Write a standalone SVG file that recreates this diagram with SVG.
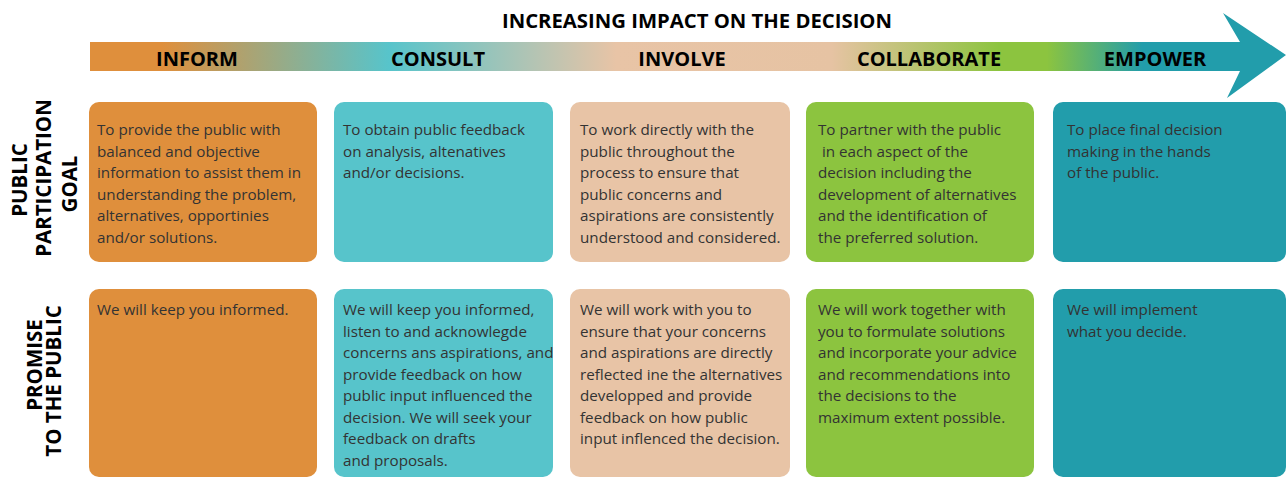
<svg xmlns="http://www.w3.org/2000/svg" width="1287" height="477" viewBox="0 0 1287 477">
<defs>
<linearGradient id="bar" gradientUnits="userSpaceOnUse" x1="90" y1="0" x2="1286" y2="0">
<stop offset="0" stop-color="#DF8F3C"/>
<stop offset="0.06" stop-color="#DF8F3C"/>
<stop offset="0.25" stop-color="#57C4CB"/>
<stop offset="0.44" stop-color="#E8C4A6"/>
<stop offset="0.62" stop-color="#E6C3A3"/>
<stop offset="0.76" stop-color="#8CC43F"/>
<stop offset="0.8" stop-color="#8CC43F"/>
<stop offset="0.88" stop-color="#229DAB"/>
<stop offset="1" stop-color="#229DAB"/>
</linearGradient>
<style>
.title{font-family:"Open Sans","Liberation Sans",sans-serif;font-weight:700;font-size:20.3px;fill:#000;}
.hdr{font-family:"Open Sans","Liberation Sans",sans-serif;font-weight:700;font-size:20px;fill:#000;text-anchor:middle;}
.side{font-family:"Open Sans","Liberation Sans",sans-serif;font-weight:700;font-size:20.5px;fill:#000;text-anchor:middle;}
.body{font-family:"Open Sans","Liberation Sans",sans-serif;font-weight:400;font-size:15.2px;fill:#333;}
.o{fill:#DF8F3C;}.t{fill:#57C4CB;}.p{fill:#E8C4A6;}.g{fill:#8CC43F;}.d{fill:#229DAB;}
</style>
</defs>

<g id="arrow">
<path d="M90,42 H1240 L1223,13 L1286,55 L1227,98 L1240,71 H90 Z" fill="url(#bar)"/>
<text class="title" x="697" y="28" text-anchor="middle">INCREASING IMPACT ON THE DECISION</text>
<text class="hdr" x="197" y="66">INFORM</text>
<text class="hdr" x="438" y="66">CONSULT</text>
<text class="hdr" x="682" y="66">INVOLVE</text>
<text class="hdr" x="929" y="66">COLLABORATE</text>
<text class="hdr" x="1155" y="66">EMPOWER</text>
</g>

<g id="label-goal">
<text class="side" transform="translate(27,180) rotate(-90)">PUBLIC</text>
<text class="side" transform="translate(51,178) rotate(-90)">PARTICIPATION</text>
<text class="side" transform="translate(77,184) rotate(-90)">GOAL</text>
</g>
<g id="label-promise">
<text class="side" transform="translate(42,365) rotate(-90)">PROMISE</text>
<text class="side" transform="translate(61,381) rotate(-90)">TO THE PUBLIC</text>
</g>

<g id="goal-inform">
<rect class="o" x="89" y="102" width="228" height="160" rx="10"/>
<text class="body"><tspan x="97" y="135">To provide the public with</tspan><tspan x="97" y="156.5">balanced and objective</tspan><tspan x="97" y="178">information to assist them in</tspan><tspan x="97" y="199.5">understanding the problem,</tspan><tspan x="97" y="221">alternatives, opportinies</tspan><tspan x="97" y="242.5">and/or solutions.</tspan></text>
</g>
<g id="goal-consult">
<rect class="t" x="334" y="102" width="219" height="160" rx="10"/>
<text class="body"><tspan x="343" y="135">To obtain public feedback</tspan><tspan x="343" y="156.5">on analysis, altenatives</tspan><tspan x="343" y="178">and/or decisions.</tspan></text>
</g>
<g id="goal-involve">
<rect class="p" x="570" y="102" width="220" height="160" rx="10"/>
<text class="body"><tspan x="580" y="135">To work directly with the</tspan><tspan x="580" y="156.5">public throughout the</tspan><tspan x="580" y="178">process to ensure that</tspan><tspan x="580" y="199.5">public concerns and</tspan><tspan x="580" y="221">aspirations are consistently</tspan><tspan x="580" y="242.5">understood and considered.</tspan></text>
</g>
<g id="goal-collaborate">
<rect class="g" x="806" y="102" width="228" height="160" rx="10"/>
<text class="body"><tspan x="818" y="135">To partner with the public</tspan><tspan x="818" y="156.5"> in each aspect of the</tspan><tspan x="818" y="178">decision including the</tspan><tspan x="818" y="199.5">development of alternatives</tspan><tspan x="818" y="221">and the identification of</tspan><tspan x="818" y="242.5">the preferred solution.</tspan></text>
</g>
<g id="goal-empower">
<rect class="d" x="1053" y="102" width="233" height="160" rx="10"/>
<text class="body"><tspan x="1067" y="135">To place final decision</tspan><tspan x="1067" y="156.5">making in the hands</tspan><tspan x="1067" y="178">of the public.</tspan></text>
</g>

<g id="promise-inform">
<rect class="o" x="89" y="289" width="228" height="188" rx="10"/>
<text class="body"><tspan x="97" y="315">We will keep you informed.</tspan></text>
</g>
<g id="promise-consult">
<rect class="t" x="334" y="289" width="219" height="188" rx="10"/>
<text class="body"><tspan x="343" y="315">We will keep you informed,</tspan><tspan x="343" y="336.5">listen to and acknowlegde</tspan><tspan x="343" y="358">concerns ans aspirations, and</tspan><tspan x="343" y="379.5">provide feedback on how</tspan><tspan x="343" y="401">public input influenced the</tspan><tspan x="343" y="422.5">decision. We will seek your</tspan><tspan x="343" y="444">feedback on drafts</tspan><tspan x="343" y="465.5">and proposals.</tspan></text>
</g>
<g id="promise-involve">
<rect class="p" x="570" y="289" width="220" height="188" rx="10"/>
<text class="body"><tspan x="580" y="315">We will work with you to</tspan><tspan x="580" y="336.5">ensure that your concerns</tspan><tspan x="580" y="358">and aspirations are directly</tspan><tspan x="580" y="379.5">reflected ine the alternatives</tspan><tspan x="580" y="401">developped and provide</tspan><tspan x="580" y="422.5">feedback on how public</tspan><tspan x="580" y="444">input inflenced the decision.</tspan></text>
</g>
<g id="promise-collaborate">
<rect class="g" x="806" y="289" width="228" height="188" rx="10"/>
<text class="body"><tspan x="818" y="315">We will work together with</tspan><tspan x="818" y="336.5">you to formulate solutions</tspan><tspan x="818" y="358">and incorporate your advice</tspan><tspan x="818" y="379.5">and recommendations into</tspan><tspan x="818" y="401">the decisions to the</tspan><tspan x="818" y="422.5">maximum extent possible.</tspan></text>
</g>
<g id="promise-empower">
<rect class="d" x="1053" y="289" width="233" height="188" rx="10"/>
<text class="body"><tspan x="1067" y="315">We will implement</tspan><tspan x="1067" y="336.5">what you decide.</tspan></text>
</g>
<g id="connectors"/>
</svg>
